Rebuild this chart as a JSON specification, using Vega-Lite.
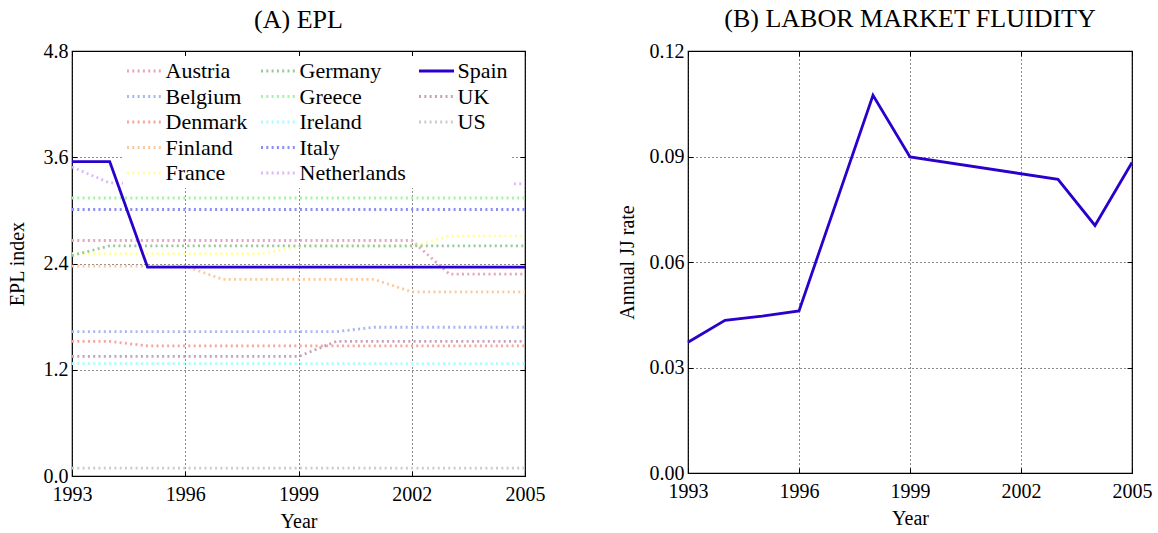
{
  "$schema": "https://vega.github.io/schema/vega-lite/v6.json",
  "background": "white",
  "padding": {"left": 6, "top": 5, "right": 5, "bottom": 5},
  "spacing": 70,
  "config": {
    "font": "Liberation Serif",
    "view": {"stroke": "black", "strokeWidth": 1.2},
    "axis": {
      "labelFont": "Liberation Serif", "titleFont": "Liberation Serif",
      "labelFontSize": 20, "titleFontSize": 20, "titleFontWeight": "normal",
      "labelColor": "black", "titleColor": "black", "labelFlush": false,
      "domain": false, "tickColor": "black", "tickSize": -5, "tickWidth": 1,
      "gridColor": "black", "gridDash": [1, 3], "gridWidth": 1, "gridOpacity": 0.9
    },
    "axisX": {"labelPadding": 13, "titlePadding": 7},
    "axisY": {"labelPadding": 9},
    "title": {"font": "Liberation Serif", "fontSize": 26, "fontWeight": "normal", "color": "black", "frame": "group", "anchor": "middle"}
  },
  "hconcat": [
    {
      "width": 453, "height": 425,
      "title": {"text": "(A) EPL", "offset": 8},
      "data": {"values": [
        {"country":"Austria","year":1993,"epl":2.66},{"country":"Austria","year":1994,"epl":2.66},{"country":"Austria","year":1995,"epl":2.66},{"country":"Austria","year":1996,"epl":2.66},{"country":"Austria","year":1997,"epl":2.66},{"country":"Austria","year":1998,"epl":2.66},{"country":"Austria","year":1999,"epl":2.66},{"country":"Austria","year":2000,"epl":2.66},{"country":"Austria","year":2001,"epl":2.66},{"country":"Austria","year":2002,"epl":2.66},{"country":"Austria","year":2003,"epl":2.28},{"country":"Austria","year":2004,"epl":2.28},{"country":"Austria","year":2005,"epl":2.28},
        {"country":"Belgium","year":1993,"epl":1.63},{"country":"Belgium","year":1994,"epl":1.63},{"country":"Belgium","year":1995,"epl":1.63},{"country":"Belgium","year":1996,"epl":1.63},{"country":"Belgium","year":1997,"epl":1.63},{"country":"Belgium","year":1998,"epl":1.63},{"country":"Belgium","year":1999,"epl":1.63},{"country":"Belgium","year":2000,"epl":1.63},{"country":"Belgium","year":2001,"epl":1.68},{"country":"Belgium","year":2002,"epl":1.68},{"country":"Belgium","year":2003,"epl":1.68},{"country":"Belgium","year":2004,"epl":1.68},{"country":"Belgium","year":2005,"epl":1.68},
        {"country":"Denmark","year":1993,"epl":1.52},{"country":"Denmark","year":1994,"epl":1.52},{"country":"Denmark","year":1995,"epl":1.47},{"country":"Denmark","year":1996,"epl":1.47},{"country":"Denmark","year":1997,"epl":1.47},{"country":"Denmark","year":1998,"epl":1.47},{"country":"Denmark","year":1999,"epl":1.47},{"country":"Denmark","year":2000,"epl":1.47},{"country":"Denmark","year":2001,"epl":1.47},{"country":"Denmark","year":2002,"epl":1.47},{"country":"Denmark","year":2003,"epl":1.47},{"country":"Denmark","year":2004,"epl":1.47},{"country":"Denmark","year":2005,"epl":1.47},
        {"country":"Finland","year":1993,"epl":2.37},{"country":"Finland","year":1994,"epl":2.37},{"country":"Finland","year":1995,"epl":2.37},{"country":"Finland","year":1996,"epl":2.37},{"country":"Finland","year":1997,"epl":2.22},{"country":"Finland","year":1998,"epl":2.22},{"country":"Finland","year":1999,"epl":2.22},{"country":"Finland","year":2000,"epl":2.22},{"country":"Finland","year":2001,"epl":2.22},{"country":"Finland","year":2002,"epl":2.08},{"country":"Finland","year":2003,"epl":2.08},{"country":"Finland","year":2004,"epl":2.08},{"country":"Finland","year":2005,"epl":2.08},
        {"country":"France","year":1993,"epl":2.51},{"country":"France","year":1994,"epl":2.51},{"country":"France","year":1995,"epl":2.51},{"country":"France","year":1996,"epl":2.51},{"country":"France","year":1997,"epl":2.51},{"country":"France","year":1998,"epl":2.51},{"country":"France","year":1999,"epl":2.59},{"country":"France","year":2000,"epl":2.59},{"country":"France","year":2001,"epl":2.59},{"country":"France","year":2002,"epl":2.59},{"country":"France","year":2003,"epl":2.71},{"country":"France","year":2004,"epl":2.71},{"country":"France","year":2005,"epl":2.71},
        {"country":"Germany","year":1993,"epl":2.49},{"country":"Germany","year":1994,"epl":2.6},{"country":"Germany","year":1995,"epl":2.6},{"country":"Germany","year":1996,"epl":2.6},{"country":"Germany","year":1997,"epl":2.6},{"country":"Germany","year":1998,"epl":2.6},{"country":"Germany","year":1999,"epl":2.6},{"country":"Germany","year":2000,"epl":2.6},{"country":"Germany","year":2001,"epl":2.6},{"country":"Germany","year":2002,"epl":2.6},{"country":"Germany","year":2003,"epl":2.6},{"country":"Germany","year":2004,"epl":2.6},{"country":"Germany","year":2005,"epl":2.6},
        {"country":"Greece","year":1993,"epl":3.14},{"country":"Greece","year":1994,"epl":3.14},{"country":"Greece","year":1995,"epl":3.14},{"country":"Greece","year":1996,"epl":3.14},{"country":"Greece","year":1997,"epl":3.14},{"country":"Greece","year":1998,"epl":3.14},{"country":"Greece","year":1999,"epl":3.14},{"country":"Greece","year":2000,"epl":3.14},{"country":"Greece","year":2001,"epl":3.14},{"country":"Greece","year":2002,"epl":3.14},{"country":"Greece","year":2003,"epl":3.14},{"country":"Greece","year":2004,"epl":3.14},{"country":"Greece","year":2005,"epl":3.14},
        {"country":"Ireland","year":1993,"epl":1.27},{"country":"Ireland","year":1994,"epl":1.27},{"country":"Ireland","year":1995,"epl":1.27},{"country":"Ireland","year":1996,"epl":1.27},{"country":"Ireland","year":1997,"epl":1.27},{"country":"Ireland","year":1998,"epl":1.27},{"country":"Ireland","year":1999,"epl":1.27},{"country":"Ireland","year":2000,"epl":1.27},{"country":"Ireland","year":2001,"epl":1.27},{"country":"Ireland","year":2002,"epl":1.27},{"country":"Ireland","year":2003,"epl":1.27},{"country":"Ireland","year":2004,"epl":1.27},{"country":"Ireland","year":2005,"epl":1.27},
        {"country":"Italy","year":1993,"epl":3.01},{"country":"Italy","year":1994,"epl":3.01},{"country":"Italy","year":1995,"epl":3.01},{"country":"Italy","year":1996,"epl":3.01},{"country":"Italy","year":1997,"epl":3.01},{"country":"Italy","year":1998,"epl":3.01},{"country":"Italy","year":1999,"epl":3.01},{"country":"Italy","year":2000,"epl":3.01},{"country":"Italy","year":2001,"epl":3.01},{"country":"Italy","year":2002,"epl":3.01},{"country":"Italy","year":2003,"epl":3.01},{"country":"Italy","year":2004,"epl":3.01},{"country":"Italy","year":2005,"epl":3.01},
        {"country":"Netherlands","year":1993,"epl":3.49},{"country":"Netherlands","year":1994,"epl":3.31},{"country":"Netherlands","year":1995,"epl":3.3},{"country":"Netherlands","year":1996,"epl":3.3},{"country":"Netherlands","year":1997,"epl":3.3},{"country":"Netherlands","year":1998,"epl":3.3},{"country":"Netherlands","year":1999,"epl":3.3},{"country":"Netherlands","year":2000,"epl":3.3},{"country":"Netherlands","year":2001,"epl":3.3},{"country":"Netherlands","year":2002,"epl":3.3},{"country":"Netherlands","year":2003,"epl":3.3},{"country":"Netherlands","year":2004,"epl":3.3},{"country":"Netherlands","year":2005,"epl":3.3},
        {"country":"UK","year":1993,"epl":1.35},{"country":"UK","year":1994,"epl":1.35},{"country":"UK","year":1995,"epl":1.35},{"country":"UK","year":1996,"epl":1.35},{"country":"UK","year":1997,"epl":1.35},{"country":"UK","year":1998,"epl":1.35},{"country":"UK","year":1999,"epl":1.35},{"country":"UK","year":2000,"epl":1.52},{"country":"UK","year":2001,"epl":1.52},{"country":"UK","year":2002,"epl":1.52},{"country":"UK","year":2003,"epl":1.52},{"country":"UK","year":2004,"epl":1.52},{"country":"UK","year":2005,"epl":1.52},
        {"country":"US","year":1993,"epl":0.09},{"country":"US","year":1994,"epl":0.09},{"country":"US","year":1995,"epl":0.09},{"country":"US","year":1996,"epl":0.09},{"country":"US","year":1997,"epl":0.09},{"country":"US","year":1998,"epl":0.09},{"country":"US","year":1999,"epl":0.09},{"country":"US","year":2000,"epl":0.09},{"country":"US","year":2001,"epl":0.09},{"country":"US","year":2002,"epl":0.09},{"country":"US","year":2003,"epl":0.09},{"country":"US","year":2004,"epl":0.09},{"country":"US","year":2005,"epl":0.09},
        {"country":"Spain","year":1993,"epl":3.55},{"country":"Spain","year":1994,"epl":3.55},{"country":"Spain","year":1995,"epl":2.36},{"country":"Spain","year":1996,"epl":2.36},{"country":"Spain","year":1997,"epl":2.36},{"country":"Spain","year":1998,"epl":2.36},{"country":"Spain","year":1999,"epl":2.36},{"country":"Spain","year":2000,"epl":2.36},{"country":"Spain","year":2001,"epl":2.36},{"country":"Spain","year":2002,"epl":2.36},{"country":"Spain","year":2003,"epl":2.36},{"country":"Spain","year":2004,"epl":2.36},{"country":"Spain","year":2005,"epl":2.36}
      ]},
      "layer": [
        {
          "mark": {"type": "line", "strokeWidth": 2.8},
          "encoding": {
            "x": {"field": "year", "type": "quantitative", "scale": {"domain": [1993, 2005], "nice": false, "zero": false},
                  "axis": {"values": [1993, 1996, 1999, 2002, 2005], "format": "d", "title": "Year"}},
            "y": {"field": "epl", "type": "quantitative", "scale": {"domain": [0, 4.8], "nice": false},
                  "axis": {"values": [0, 1.2, 2.4, 3.6, 4.8], "format": ".1f", "title": "EPL index", "titlePadding": 16}},
            "color": {"field": "country", "type": "nominal",
              "scale": {
                "domain": ["Austria","Belgium","Denmark","Finland","France","Germany","Greece","Ireland","Italy","Netherlands","Spain","UK","US"," ","  "],
                "range": ["#e8a3c0","#a6b8f0","#f7a3a3","#fbc99c","#ffff99","#99c999","#a3f5a3","#a3ffff","#8c8cf5","#dcb8f8","#2a00cc","#c4a3b3","#cccccc","rgba(0,0,0,0)","rgba(0,0,0,0)"]
              },
              "legend": {
                "orient": "none", "legendX": 51, "legendY": 5, "columns": 3, "title": null,
                "fillColor": "white", "strokeColor": null, "padding": 4,
                "symbolType": "M-2,0H2", "symbolSize": 306, "symbolStrokeWidth": 2.8, "symbolOffset": 6.5,
                "labelFont": "Liberation Serif", "labelFontSize": 22, "labelColor": "black", "labelLimit": 300,
                "labelOffset": 10, "columnPadding": 7, "rowPadding": 3.5
              }
            },
            "strokeDash": {"field": "country", "type": "nominal",
              "scale": {
                "domain": ["Austria","Belgium","Denmark","Finland","France","Germany","Greece","Ireland","Italy","Netherlands","Spain","UK","US"," ","  "],
                "range": [[2,3.3],[2,3.3],[2,3.3],[2,3.3],[2,3.3],[2,3.3],[2,3.3],[2,3.3],[2,3.3],[2,3.3],[1,0],[2,3.3],[2,3.3],[2,3.3],[2,3.3]]
              }
            }
          }
        },
        {
          "mark": {"type": "point", "opacity": 0},
          "encoding": {
            "x": {"field": "year", "type": "quantitative", "axis": {"orient": "top", "values": [1993, 1996, 1999, 2002, 2005], "labels": false, "grid": false, "title": null}},
            "y": {"field": "epl", "type": "quantitative", "axis": {"orient": "right", "values": [0, 1.2, 2.4, 3.6, 4.8], "labels": false, "grid": false, "title": null}}
          }
        }
      ],
      "resolve": {"axis": {"x": "independent", "y": "independent"}}
    },
    {
      "width": 444, "height": 422,
      "title": {"text": "(B) LABOR MARKET FLUIDITY", "offset": 9},
      "data": {"values": [
        {"year":1993,"rate":0.0372},{"year":1994,"rate":0.0434},{"year":1995,"rate":0.0446},{"year":1996,"rate":0.0461},
        {"year":1998,"rate":0.1074},{"year":1999,"rate":0.0899},{"year":2003,"rate":0.0835},{"year":2004,"rate":0.0704},{"year":2005,"rate":0.0883}
      ]},
      "layer": [
        {
          "mark": {"type": "line", "strokeWidth": 2.8, "color": "#2a00cc"},
          "encoding": {
            "x": {"field": "year", "type": "quantitative", "scale": {"domain": [1993, 2005], "nice": false, "zero": false},
                  "axis": {"values": [1993, 1996, 1999, 2002, 2005], "format": "d", "title": "Year"}},
            "y": {"field": "rate", "type": "quantitative", "scale": {"domain": [0, 0.12], "nice": false},
                  "axis": {"values": [0, 0.03, 0.06, 0.09, 0.12], "format": ".2f", "title": "Annual JJ rate", "titlePadding": 12}}
          }
        },
        {
          "mark": {"type": "point", "opacity": 0},
          "encoding": {
            "x": {"field": "year", "type": "quantitative", "axis": {"orient": "top", "values": [1993, 1996, 1999, 2002, 2005], "labels": false, "grid": false, "title": null}},
            "y": {"field": "rate", "type": "quantitative", "axis": {"orient": "right", "values": [0, 0.03, 0.06, 0.09, 0.12], "labels": false, "grid": false, "title": null}}
          }
        }
      ],
      "resolve": {"axis": {"x": "independent", "y": "independent"}}
    }
  ]
}
